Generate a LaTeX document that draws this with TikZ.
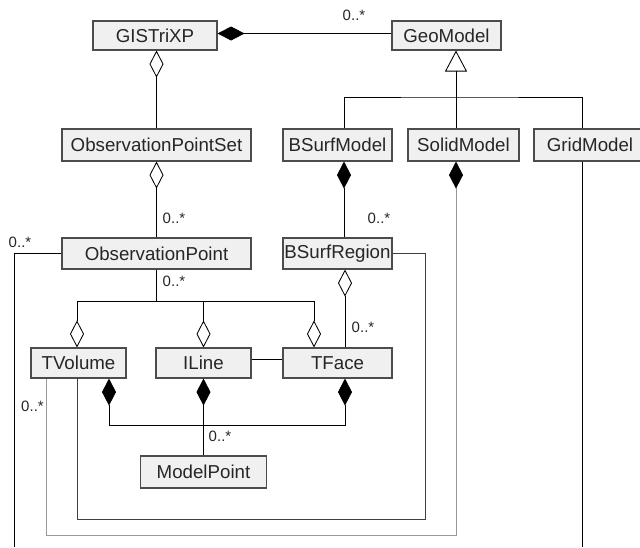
\documentclass[tikz,border=0pt]{standalone}
\usepackage{fontspec}
\setmainfont{Liberation Sans}
\usetikzlibrary{arrows.meta}
\begin{document}
\begin{tikzpicture}[x=1pt,y=-1pt,line width=0.85pt,
    cls/.style={draw=black!70,fill=black!6,text=black!85,line width=1.1pt,inner sep=0pt,
        minimum height=31pt,font=\fontsize{18.7}{22}\selectfont},
    mult/.style={text=black!85,inner sep=0pt,font=\fontsize{15}{18}\selectfont},
    agg/.style={-{Diamond[open,length=27pt,width=14pt]}},
    comp/.style={-{Diamond[length=27pt,width=14pt,color=black]}},
    gen/.style={-{Triangle[open,length=21pt,width=22pt]}}]
\useasboundingbox (0,0) rectangle (640,547);
\node[cls,minimum width=124pt,minimum height=29pt] (gis) at (155,35.5) {GISTriXP};
\node[cls,minimum width=109pt,minimum height=29pt] (geo) at (446.5,35.5) {GeoModel};
\node[cls,minimum width=189pt,minimum height=32pt] (ops) at (156.5,145) {ObservationPointSet};
\node[cls,minimum width=109pt,minimum height=32pt] (bsm) at (337.5,145) {BSurfModel};
\node[cls,minimum width=111pt,minimum height=32pt] (som) at (463.5,145) {SolidModel};
\node[cls,minimum width=112pt,minimum height=32pt] (grm) at (590,145) {GridModel};
\node[cls,minimum width=189pt] (op) at (156.5,253.5) {ObservationPoint};
\node[cls,minimum width=109pt] (bsr) at (337.5,253.5) {BSurfRegion};
\node[cls,minimum width=95pt,minimum height=30pt] (tv) at (78.5,363) {TVolume};
\node[cls,minimum width=95pt,minimum height=30pt] (il) at (203.5,363) {ILine};
\node[cls,minimum width=109pt,minimum height=30pt] (tf) at (337.5,363) {TFace};
\node[cls,minimum width=126pt,minimum height=32pt] (mp) at (203.5,472) {ModelPoint};
\coordinate (genbus) at (456,97);
\coordinate (opbus) at (156,301);
\coordinate (mpbus) at (203,425);
\coordinate (bsrloop) at (425,519);
\coordinate (somloop) at (456,535);
\coordinate (opleft) at (14,547);
\coordinate (grmend) at (582,547);
\draw[comp]([yshift=2pt]geo.west)--([yshift=2pt]gis.east);
\node[mult] (m1) at (354,15) {0..*};
\draw[agg](ops.north)--(ops.north|-gis.south);
\draw[gen]([xshift=-7.5pt]som.north)--([xshift=9.5pt]geo.south);
\draw([xshift=6.5pt]bsm.north)|-(genbus)-|([xshift=-8pt]grm.north);
\draw[agg](op.north)--(ops.south);\node[mult] (m2) at (174,218.5) {0..*};
\draw[comp]([xshift=6.5pt]bsr.north)--([xshift=6.5pt]bsm.south);\node[mult] (m3) at (379,218.5) {0..*};
\draw(op.south)--(op.south|-opbus);\node[mult] (m4) at (174,281) {0..*};
\draw[agg](op.south|-opbus)-|([xshift=-1.5pt]tv.north);
\draw[agg](op.south|-opbus)-|(il.north);
\draw[agg](op.south|-opbus)-|([xshift=-23.5pt]tf.north);
\draw[agg]([xshift=7.5pt]tf.north)--([xshift=7.5pt]bsr.south);\node[mult] (m5) at (363,327) {0..*};
\draw([yshift=4pt]il.east)--([yshift=4pt]tf.west);
\draw(mp.north)--(mp.north|-mpbus);\node[mult] (m6) at (220,436) {0..*};
\draw[comp](mp.north|-mpbus)-|([xshift=30.5pt]tv.south);
\draw[comp](mp.north|-mpbus)--(il.south);
\draw[comp](mp.north|-mpbus)-|([xshift=7.5pt]tf.south);
\draw[black!75](bsr.east)-|(bsrloop)-|([xshift=-1.5pt]tv.south);
\draw[black!40,comp]([xshift=-32.5pt]tv.south)|-(somloop)--([xshift=-7.5pt]som.south);
\node[mult] (m7) at (32.5,406) {0..*};
\draw(op.west)-|(opleft);\node[mult] (m8) at (20,242) {0..*};
\draw([xshift=-8pt]grm.south)--(grmend);
\end{tikzpicture}
\end{document}
